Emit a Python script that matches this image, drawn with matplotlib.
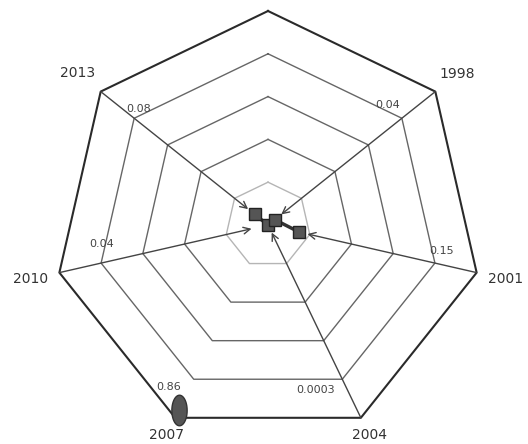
import numpy as np
import matplotlib
matplotlib.use("Agg")
import matplotlib.pyplot as plt
from matplotlib.path import Path
from matplotlib.transforms import offset_copy

# ---- data ----
axis_labels = ['', '1998', '2001', '2004', '2007', '2010', '2013']
values = [0.0, 0.04, 0.15, 0.0003, 0.86, 0.04, 0.08]
line_axes = ['2013', '', '1998', '2001']          # points joined by the square-marker line
arrow_axes = ['1998', '2001', '2004', '2007', '2010', '2013']
ellipse_axes = ['2007']
ring_levels = [0.2, 0.4, 0.6, 0.8, 1.0]

# ---- styles / positions ----
value_label_offsets = {  # pixel offsets of value text from the 0.8 ring vertex
    '1998': (-14, 13), '2001': (7, 12), '2004': (-27, -11),
    '2007': (-25, -8), '2010': (1, 19), '2013': (4, 9)}
axis_label_radius = {'1998': 1.13, '2001': 1.14, '2004': 1.09, '2007': 1.09,
                     '2010': 1.14, '2013': 1.14}
ring_colors = {0.2: '#b5b5b5', 0.4: '#666666', 0.6: '#666666', 0.8: '#666666', 1.0: '#2a2a2a'}
ring_widths = {0.2: 1.0, 0.4: 1.0, 0.6: 1.0, 0.8: 1.0, 1.0: 1.5}

n = len(axis_labels)
theta = np.linspace(0, 2 * np.pi, n, endpoint=False)
idx = {lab: i for i, lab in enumerate(axis_labels)}

fig = plt.figure(figsize=(5.28, 4.44), dpi=100)
ax = fig.add_axes([0.1023, 0.01126, 0.8106, 0.964], projection='polar')
ax.set_theta_offset(np.pi / 2)
ax.set_theta_direction(-1)
ax.set_ylim(0, 1)
ax.grid(False)
ax.spines['polar'].set_visible(False)
ax.set_xticks([])
ax.set_yticks([])

th_closed = np.append(theta, theta[0])
for r in ring_levels:
    ax.plot(th_closed, [r] * (n + 1), color=ring_colors[r], lw=ring_widths[r],
            clip_on=False, zorder=1)

# arrows from axis vertex to the value
for lab in arrow_axes:
    i = idx[lab]
    ax.annotate('', xy=(theta[i], values[i]), xytext=(theta[i], 1.0),
                arrowprops=dict(arrowstyle='->', color='#444444', lw=1.0,
                                shrinkA=0, shrinkB=6, mutation_scale=12),
                zorder=2, annotation_clip=False)

# line with square markers
li = [idx[l] for l in line_axes]
ax.plot(theta[li], [values[i] for i in li], color='#333333', lw=2.5,
        marker='s', ms=8, mfc='#555555', mec='#222222', zorder=4, clip_on=False)

# ellipse marker
t = np.linspace(0, 2 * np.pi, 60)
ell = Path(np.column_stack([0.5 * np.cos(t), np.sin(t)]), closed=True)
for lab in ellipse_axes:
    i = idx[lab]
    tr = offset_copy(ax.transData, fig=fig, x=-9, y=-19, units='dots')
    ax.plot([theta[i]], [values[i]], marker=ell, ms=22, mfc='#555555',
            mec='#333333', mew=1, transform=tr, zorder=5, clip_on=False)

# value labels
for lab, (dx, dy) in value_label_offsets.items():
    i = idx[lab]
    tr = offset_copy(ax.transData, fig=fig, x=dx, y=dy, units='dots')
    ax.text(theta[i], 0.8, f"{values[i]:g}", transform=tr, fontsize=8,
            color='#444444', ha='center', va='center', zorder=6)

# axis labels
for i, lab in enumerate(axis_labels):
    if lab:
        ax.text(theta[i], axis_label_radius[lab], lab, fontsize=10, color='#333333',
                ha='center', va='center', clip_on=False)

fig.savefig('out.png', dpi=100)
